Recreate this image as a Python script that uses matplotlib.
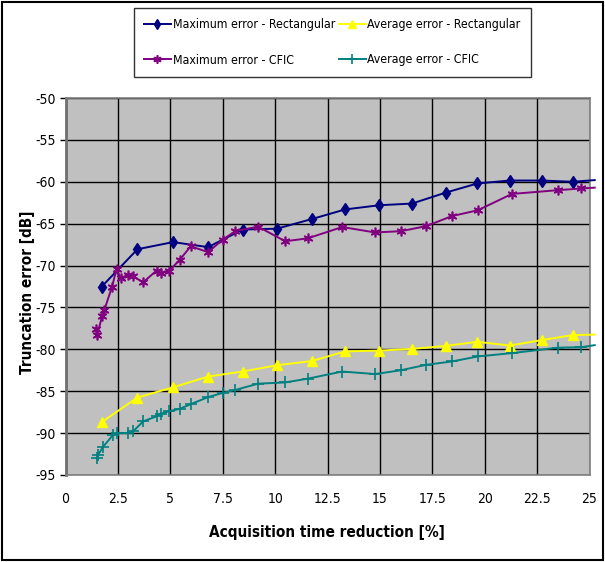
import matplotlib
matplotlib.use("Agg")
import matplotlib.pyplot as plt
from matplotlib.patches import Rectangle

plt.rcParams["font.family"] = ["DejaVu Sans"]
plt.rcParams["font.stretch"] = "condensed"
plt.rcParams["axes.unicode_minus"] = False

# Maximum error - Rectangular
x_max_rect = [1.73, 3.43, 5.13, 6.8, 8.45, 10.08, 11.75, 13.34, 14.97, 16.53, 18.13, 19.65, 21.2, 22.72, 24.2, 25.25]
y_max_rect = [-72.5, -68.05, -67.2, -67.8, -65.7, -65.6, -64.45, -63.3, -62.8, -62.6, -61.3, -60.2, -59.85, -59.85, -60.0, -59.8]

# Maximum error - CFIC
x_max_cfic = [1.45, 1.5, 1.75, 1.85, 2.22, 2.43, 2.62, 3.0, 3.22, 3.7, 4.34, 4.53, 4.92, 5.45, 5.97, 6.8, 7.5, 8.1,
              9.18, 10.48, 11.56, 13.2, 14.77, 15.99, 17.2, 18.43, 19.67, 21.3, 23.5, 24.6, 25.25]
y_max_cfic = [-77.6, -78.3, -76.0, -75.3, -72.5, -70.4, -71.5, -71.1, -71.3, -72.0, -70.6, -70.9, -70.7, -69.3, -67.7,
              -68.4, -66.9, -65.9, -65.35, -67.1, -66.75, -65.4, -66.05, -65.9, -65.3, -64.1, -63.4, -61.45, -61.0,
              -60.8, -60.7]

# Average error - Rectangular
x_avg_rect = [1.72, 3.43, 5.11, 6.8, 8.45, 10.08, 11.75, 13.34, 14.97, 16.53, 18.13, 19.65, 21.2, 22.72, 24.2, 25.25]
y_avg_rect = [-88.7, -85.75, -84.55, -83.25, -82.65, -81.9, -81.4, -80.25, -80.15, -79.95, -79.6, -79.1, -79.55,
              -78.9, -78.3, -78.25]

# Average error - CFIC
x_avg_cfic = [1.48, 1.55, 1.8, 2.27, 2.46, 2.99, 3.22, 3.7, 4.34, 4.53, 4.92, 5.45, 5.97, 6.8, 7.5, 8.1,
              9.18, 10.48, 11.56, 13.2, 14.77, 15.99, 17.2, 18.43, 19.67, 21.3, 23.5, 24.6, 25.25]
y_avg_cfic = [-93.0, -92.6, -91.6, -90.2, -90.0, -90.0, -89.8, -88.6, -88.0, -87.7, -87.4, -87.1, -86.55, -85.7,
              -85.2, -84.85, -84.1, -83.95, -83.5, -82.65, -82.95, -82.5, -81.85, -81.45, -80.85, -80.45, -79.8,
              -79.75, -79.5]

x_ticks = [0, 2.5, 5, 7.5, 10, 12.5, 15, 17.5, 20, 22.5, 25]
x_tick_labels = ["0", "2.5", "5", "7.5", "10", "12.5", "15", "17.5", "20", "22.5", "25"]
y_ticks = [-95, -90, -85, -80, -75, -70, -65, -60, -55, -50]

W, H = 605, 562
fig = plt.figure(figsize=(W / 100, H / 100), dpi=100)
ax = fig.add_axes([65.6 / W, 1 - 475 / H, (589.5 - 65.6) / W, (475 - 98) / H])
ax.set_facecolor("#C0C0C0")

def plot(x, y, color, marker, ms, label, mew=1.0):
    n = len(x)
    ax.plot(x, y, color=color, lw=1.4, label=label, marker=marker, ms=ms, mew=mew,
            markevery=list(range(n - 1)), clip_on=False, zorder=3)

plot(x_max_rect, y_max_rect, "#000080", "d", 6.5, "Maximum error - Rectangular")
plot(x_max_cfic, y_max_cfic, "#800080", (6, 2, 0), 7, "Maximum error - CFIC", mew=1.2)
plot(x_avg_rect, y_avg_rect, "#FFFF00", "^", 7, "Average error - Rectangular")
plot(x_avg_cfic, y_avg_cfic, "#008080", "+", 8, "Average error - CFIC", mew=1.2)

ax.set_xlim(0, 25)
ax.set_ylim(-95, -50)
ax.set_xticks(x_ticks)
ax.set_xticklabels(x_tick_labels)
ax.set_yticks(y_ticks)
ax.grid(True, color="#000000", lw=1.0, zorder=1)
ax.set_axisbelow(True)
ax.tick_params(axis="x", length=0, pad=12, labelsize=10)
ax.tick_params(axis="y", length=4, width=1, direction="out", pad=3, labelsize=10, color="#000000")
for side in ["top", "right", "bottom"]:
    ax.spines[side].set_color("#808080")
    ax.spines[side].set_linewidth(1.2)
ax.spines["left"].set_color("#707070")
ax.spines["left"].set_linewidth(2.0)

fig.text(327 / W, 1 - 532 / H, "Acquisition time reduction [%]", fontsize=11, fontweight="bold",
         ha="center", va="center")
fig.text(28 / W, 1 - 292 / H, "Truncation error [dB]", fontsize=11, fontweight="bold",
         ha="center", va="center", rotation=90)

leg = fig.legend(loc="upper left", bbox_to_anchor=(133.5 / W, 1 - 7.5 / H), ncol=2, frameon=True,
                 fancybox=False, edgecolor="#000000", fontsize=8.8, handlelength=2.2, handletextpad=0.15,
                 columnspacing=0.3, borderpad=0.85, labelspacing=1.85, borderaxespad=0, markerscale=0.85)
leg.get_frame().set_linewidth(1.0)

fig.patches.append(Rectangle((0.004, 0.003), 0.992, 0.993, transform=fig.transFigure, fill=False,
                             edgecolor="#000000", lw=1.5))

fig.savefig("out.png", dpi=100)
